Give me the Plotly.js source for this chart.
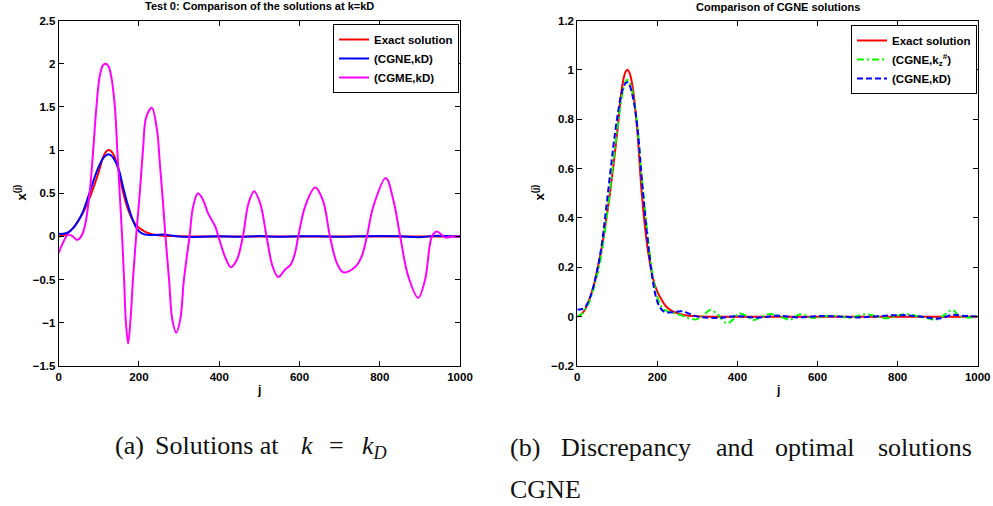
<!DOCTYPE html>
<html>
<head>
<meta charset="utf-8">
<script src="https://cdn.plot.ly/plotly-3.0.1.min.js"></script>
<style>html,body{margin:0;padding:0;background:#fff;}#chart{width:993px;height:506px;}</style>
</head>
<body>
<div id="chart"></div>
<script>
// ---- Data ----
// Exact solution
const exactJ = [0,10,20,30,40,50,60,70,80,90,100,110,115,120,125,130,135,140,150,160,170,180,190,200,210,220,230,240,260,280,300,350,400,500,600,700,800,900,1000];
const exactV = [0,0.01,0.03,0.07,0.12,0.19,0.27,0.37,0.48,0.61,0.75,0.91,0.96,0.99,1.0,0.99,0.96,0.91,0.75,0.52,0.35,0.23,0.15,0.10,0.07,0.045,0.03,0.02,0.009,0.004,0.002,0,0,0,0,0,0,0,0];

// (CGNE,kD)
const cgneKdJ = [0,10,20,30,40,50,60,70,80,90,100,110,120,125,130,140,150,160,170,180,190,200,210,220,240,260,280,300,350,400,450,500,550,600,650,700,750,800,850,900,940,960,1000];
const cgneKdV = [0.03,0.03,0.04,0.07,0.12,0.19,0.28,0.41,0.55,0.69,0.81,0.90,0.945,0.95,0.94,0.88,0.77,0.58,0.40,0.25,0.13,0.06,0.03,0.018,0.018,0.022,0.012,0,-0.005,0.002,-0.004,0.004,-0.003,0.002,0.001,-0.003,0.002,0.006,0.002,-0.008,0.008,0.004,0];

// (CGME,kD)
const cgmeKdJ = [0,12,23,35,46,56,65,77,86,94,102,110,117,124,131,140,146,152,158,163,167,173,179,185,193,202,210,218,232,245,252,260,266,275,283,293,303,312,326,335,347,360,372,390,398,414,429,444,459,473,487,502,518,533,547,564,578,589,597,614,639,658,676,693,709,738,755,768,784,815,834,851,871,896,913,930,942,963,983,1000];
const cgmeKdV = [-0.19,-0.06,0.02,0,-0.04,0,0.115,0.5,1.0,1.5,1.85,1.98,2.0,1.97,1.85,1.5,1.0,0.5,0,-0.5,-0.96,-1.24,-0.96,-0.5,0,0.5,1.0,1.38,1.49,1.23,0.85,0.385,0,-0.5,-0.96,-1.115,-0.96,-0.5,0,0.346,0.5,0.42,0.27,0.115,0,-0.23,-0.357,-0.27,0,0.385,0.523,0.385,0,-0.346,-0.47,-0.385,-0.327,-0.19,0,0.346,0.566,0.423,0,-0.307,-0.415,-0.357,-0.23,0,0.346,0.677,0.42,0,-0.46,-0.711,-0.5,0,0.058,-0.01,0,0];

// (CGNE,k_z#)
const cgneKzJ = [0,10,20,30,40,50,60,70,80,90,100,110,120,125,130,140,150,160,170,180,190,200,210,220,240,260,280,300,315,332,350,373,390,402,420,440,460,477,500,531,556,590,620,648,681,719,745,773,815,850,870,898,915,937,956,1000];
const cgneKzV = [0,0.01,0.03,0.06,0.11,0.17,0.25,0.36,0.49,0.63,0.76,0.88,0.95,0.96,0.95,0.89,0.77,0.58,0.42,0.27,0.15,0.08,0.04,0.025,0.015,0.005,-0.008,-0.01,0.005,0.027,0.01,-0.027,-0.01,0.013,0.005,-0.014,0,0.01,0.005,-0.012,0.01,-0.005,0.002,0.003,-0.005,0.01,0.002,-0.007,0.01,0.002,-0.005,-0.012,0.005,0.027,0,0];

// Tick values and labels
const xTickVals = [0,200,400,600,800,1000];
const xTickText = ["0","200","400","600","800","1000"];
const yLeftTickVals = [-1.5,-1,-0.5,0,0.5,1,1.5,2,2.5];
const yLeftTickText = ["\u22121.5","\u22121","\u22120.5","0","0.5","1","1.5","2","2.5"];
const yRightTickVals = [-0.2,0,0.2,0.4,0.6,0.8,1,1.2];
const yRightTickText = ["\u22120.2","0","0.2","0.4","0.6","0.8","1","1.2"];

// Titles
const leftTitle = "Test 0: Comparison of the solutions at k=kD";
const rightTitle = "Comparison of CGNE solutions";

// ---- Layout helpers (pixel -> paper) ----
const W = 993, H = 506;
const X = p => p / W;
const Y = p => 1 - p / H;

const sans = "Liberation Sans";
const serif = "Liberation Serif";
const tickFont = {family: sans, size: 11.5, color: "#000", weight: 700};
const bold = arr => arr.map(s => "<b>" + s + "</b>");

const traces = [
  {x: exactJ, y: exactV, type: "scatter", mode: "lines", name: "Exact solution",
   line: {color: "#ff0000", width: 2, shape: "spline"}, xaxis: "x", yaxis: "y", legend: "legend"},
  {x: cgneKdJ, y: cgneKdV, type: "scatter", mode: "lines", name: "(CGNE,kD)",
   line: {color: "#0000ff", width: 2, shape: "spline"}, xaxis: "x", yaxis: "y", legend: "legend"},
  {x: cgmeKdJ, y: cgmeKdV, type: "scatter", mode: "lines", name: "(CGME,kD)",
   line: {color: "#ff00ff", width: 2, shape: "spline"}, xaxis: "x", yaxis: "y", legend: "legend"},
  {x: exactJ, y: exactV, type: "scatter", mode: "lines", name: "Exact solution",
   line: {color: "#ff0000", width: 2, shape: "spline"}, xaxis: "x2", yaxis: "y2", legend: "legend2"},
  {x: cgneKzJ, y: cgneKzV, type: "scatter", mode: "lines", name: "(CGNE,k<sub>z</sub><sup>#</sup>)",
   line: {color: "#00ff00", width: 2, shape: "spline", dash: "7px,3px,2px,3px"}, xaxis: "x2", yaxis: "y2", legend: "legend2"},
  {x: cgneKdJ, y: cgneKdV, type: "scatter", mode: "lines", name: "(CGNE,kD)",
   line: {color: "#0000ff", width: 2, shape: "spline", dash: "6px,3px"}, xaxis: "x2", yaxis: "y2", legend: "legend2"}
];

function axisBase(extra) {
  return Object.assign({
    showline: true, linecolor: "#000", linewidth: 1, mirror: "allticks",
    ticks: "inside", ticklen: 5, tickwidth: 1, tickcolor: "#000",
    showgrid: false, zeroline: false, tickfont: tickFont, fixedrange: true,
    tickmode: "array"
  }, extra);
}

const yTop = 20.5, yBot = 366;
const boldFont = (size) => ({family: sans, size: size, color: "#000", weight: 700});
const capFont = {family: serif, size: 26, color: "#111"};
const layout = {
  width: W, height: H,
  margin: {l: 0, r: 0, t: 0, b: 0},
  paper_bgcolor: "#fff", plot_bgcolor: "#fff",
  showlegend: true,
  xaxis: axisBase({domain: [X(58.7), X(460)], range: [0, 1000], tickvals: xTickVals, ticktext: bold(xTickText), anchor: "y"}),
  yaxis: axisBase({domain: [Y(yBot), Y(yTop)], range: [-1.5, 2.5], tickvals: yLeftTickVals, ticktext: bold(yLeftTickText), anchor: "x"}),
  xaxis2: axisBase({domain: [X(577.3), X(977.7)], range: [0, 1000], tickvals: xTickVals, ticktext: bold(xTickText), anchor: "y2"}),
  yaxis2: axisBase({domain: [Y(yBot), Y(yTop)], range: [-0.2, 1.2], tickvals: yRightTickVals, ticktext: bold(yRightTickText), anchor: "x2"}),
  legend: {x: X(333), y: Y(24), xanchor: "left", yanchor: "top", bgcolor: "#fff",
           bordercolor: "#000", borderwidth: 1, font: boldFont(11.5), traceorder: "normal"},
  legend2: {x: X(851), y: Y(25), xanchor: "left", yanchor: "top", bgcolor: "#fff",
           bordercolor: "#000", borderwidth: 1, font: boldFont(11.5), traceorder: "normal"},
  annotations: [
    {text: "<b>" + leftTitle + "</b>", x: X(259.4), y: Y(6), xref: "paper", yref: "paper", xanchor: "center", yanchor: "middle",
     showarrow: false, font: boldFont(11)},
    {text: "<b>" + rightTitle + "</b>", x: X(777.5), y: Y(7), xref: "paper", yref: "paper", xanchor: "center", yanchor: "middle",
     showarrow: false, font: boldFont(11)},
    {text: "<b>j</b>", x: X(259.4), y: Y(390), xref: "paper", yref: "paper", xanchor: "center", yanchor: "middle",
     showarrow: false, font: boldFont(12)},
    {text: "<b>j</b>", x: X(777.5), y: Y(390), xref: "paper", yref: "paper", xanchor: "center", yanchor: "middle",
     showarrow: false, font: boldFont(12)},
    {text: "<b>x<sup>(j)</sup></b>", x: X(20.5), y: Y(193), xref: "paper", yref: "paper", xanchor: "center", yanchor: "middle",
     textangle: -90, showarrow: false, font: boldFont(13)},
    {text: "<b>x<sup>(j)</sup></b>", x: X(538.5), y: Y(193), xref: "paper", yref: "paper", xanchor: "center", yanchor: "middle",
     textangle: -90, showarrow: false, font: boldFont(13)},
    // captions
    {text: "(a)", x: X(113), y: Y(445), xref: "paper", yref: "paper", xanchor: "left", yanchor: "middle", showarrow: false, font: capFont},
    {text: "Solutions at", x: X(153), y: Y(445), xref: "paper", yref: "paper", xanchor: "left", yanchor: "middle", showarrow: false, font: capFont},
    {text: "<i>k</i>", x: X(299), y: Y(445), xref: "paper", yref: "paper", xanchor: "left", yanchor: "middle", showarrow: false, font: capFont},
    {text: "=", x: X(327), y: Y(445), xref: "paper", yref: "paper", xanchor: "left", yanchor: "middle", showarrow: false, font: capFont},
    {text: "<i>k</i><sub><i>D</i></sub>", x: X(360), y: Y(447), xref: "paper", yref: "paper", xanchor: "left", yanchor: "middle", showarrow: false, font: capFont},
    {text: "(b)", x: X(508), y: Y(447), xref: "paper", yref: "paper", xanchor: "left", yanchor: "middle", showarrow: false, font: capFont},
    {text: "Discrepancy", x: X(559), y: Y(447), xref: "paper", yref: "paper", xanchor: "left", yanchor: "middle", showarrow: false, font: capFont},
    {text: "and", x: X(714), y: Y(447), xref: "paper", yref: "paper", xanchor: "left", yanchor: "middle", showarrow: false, font: capFont},
    {text: "optimal", x: X(773), y: Y(447), xref: "paper", yref: "paper", xanchor: "left", yanchor: "middle", showarrow: false, font: capFont},
    {text: "solutions", x: X(876), y: Y(447), xref: "paper", yref: "paper", xanchor: "left", yanchor: "middle", showarrow: false, font: capFont},
    {text: "CGNE", x: X(508), y: Y(489), xref: "paper", yref: "paper", xanchor: "left", yanchor: "middle", showarrow: false, font: capFont}
  ]
};

Plotly.newPlot("chart", traces, layout, {displayModeBar: false, staticPlot: true});
</script>
</body>
</html>
